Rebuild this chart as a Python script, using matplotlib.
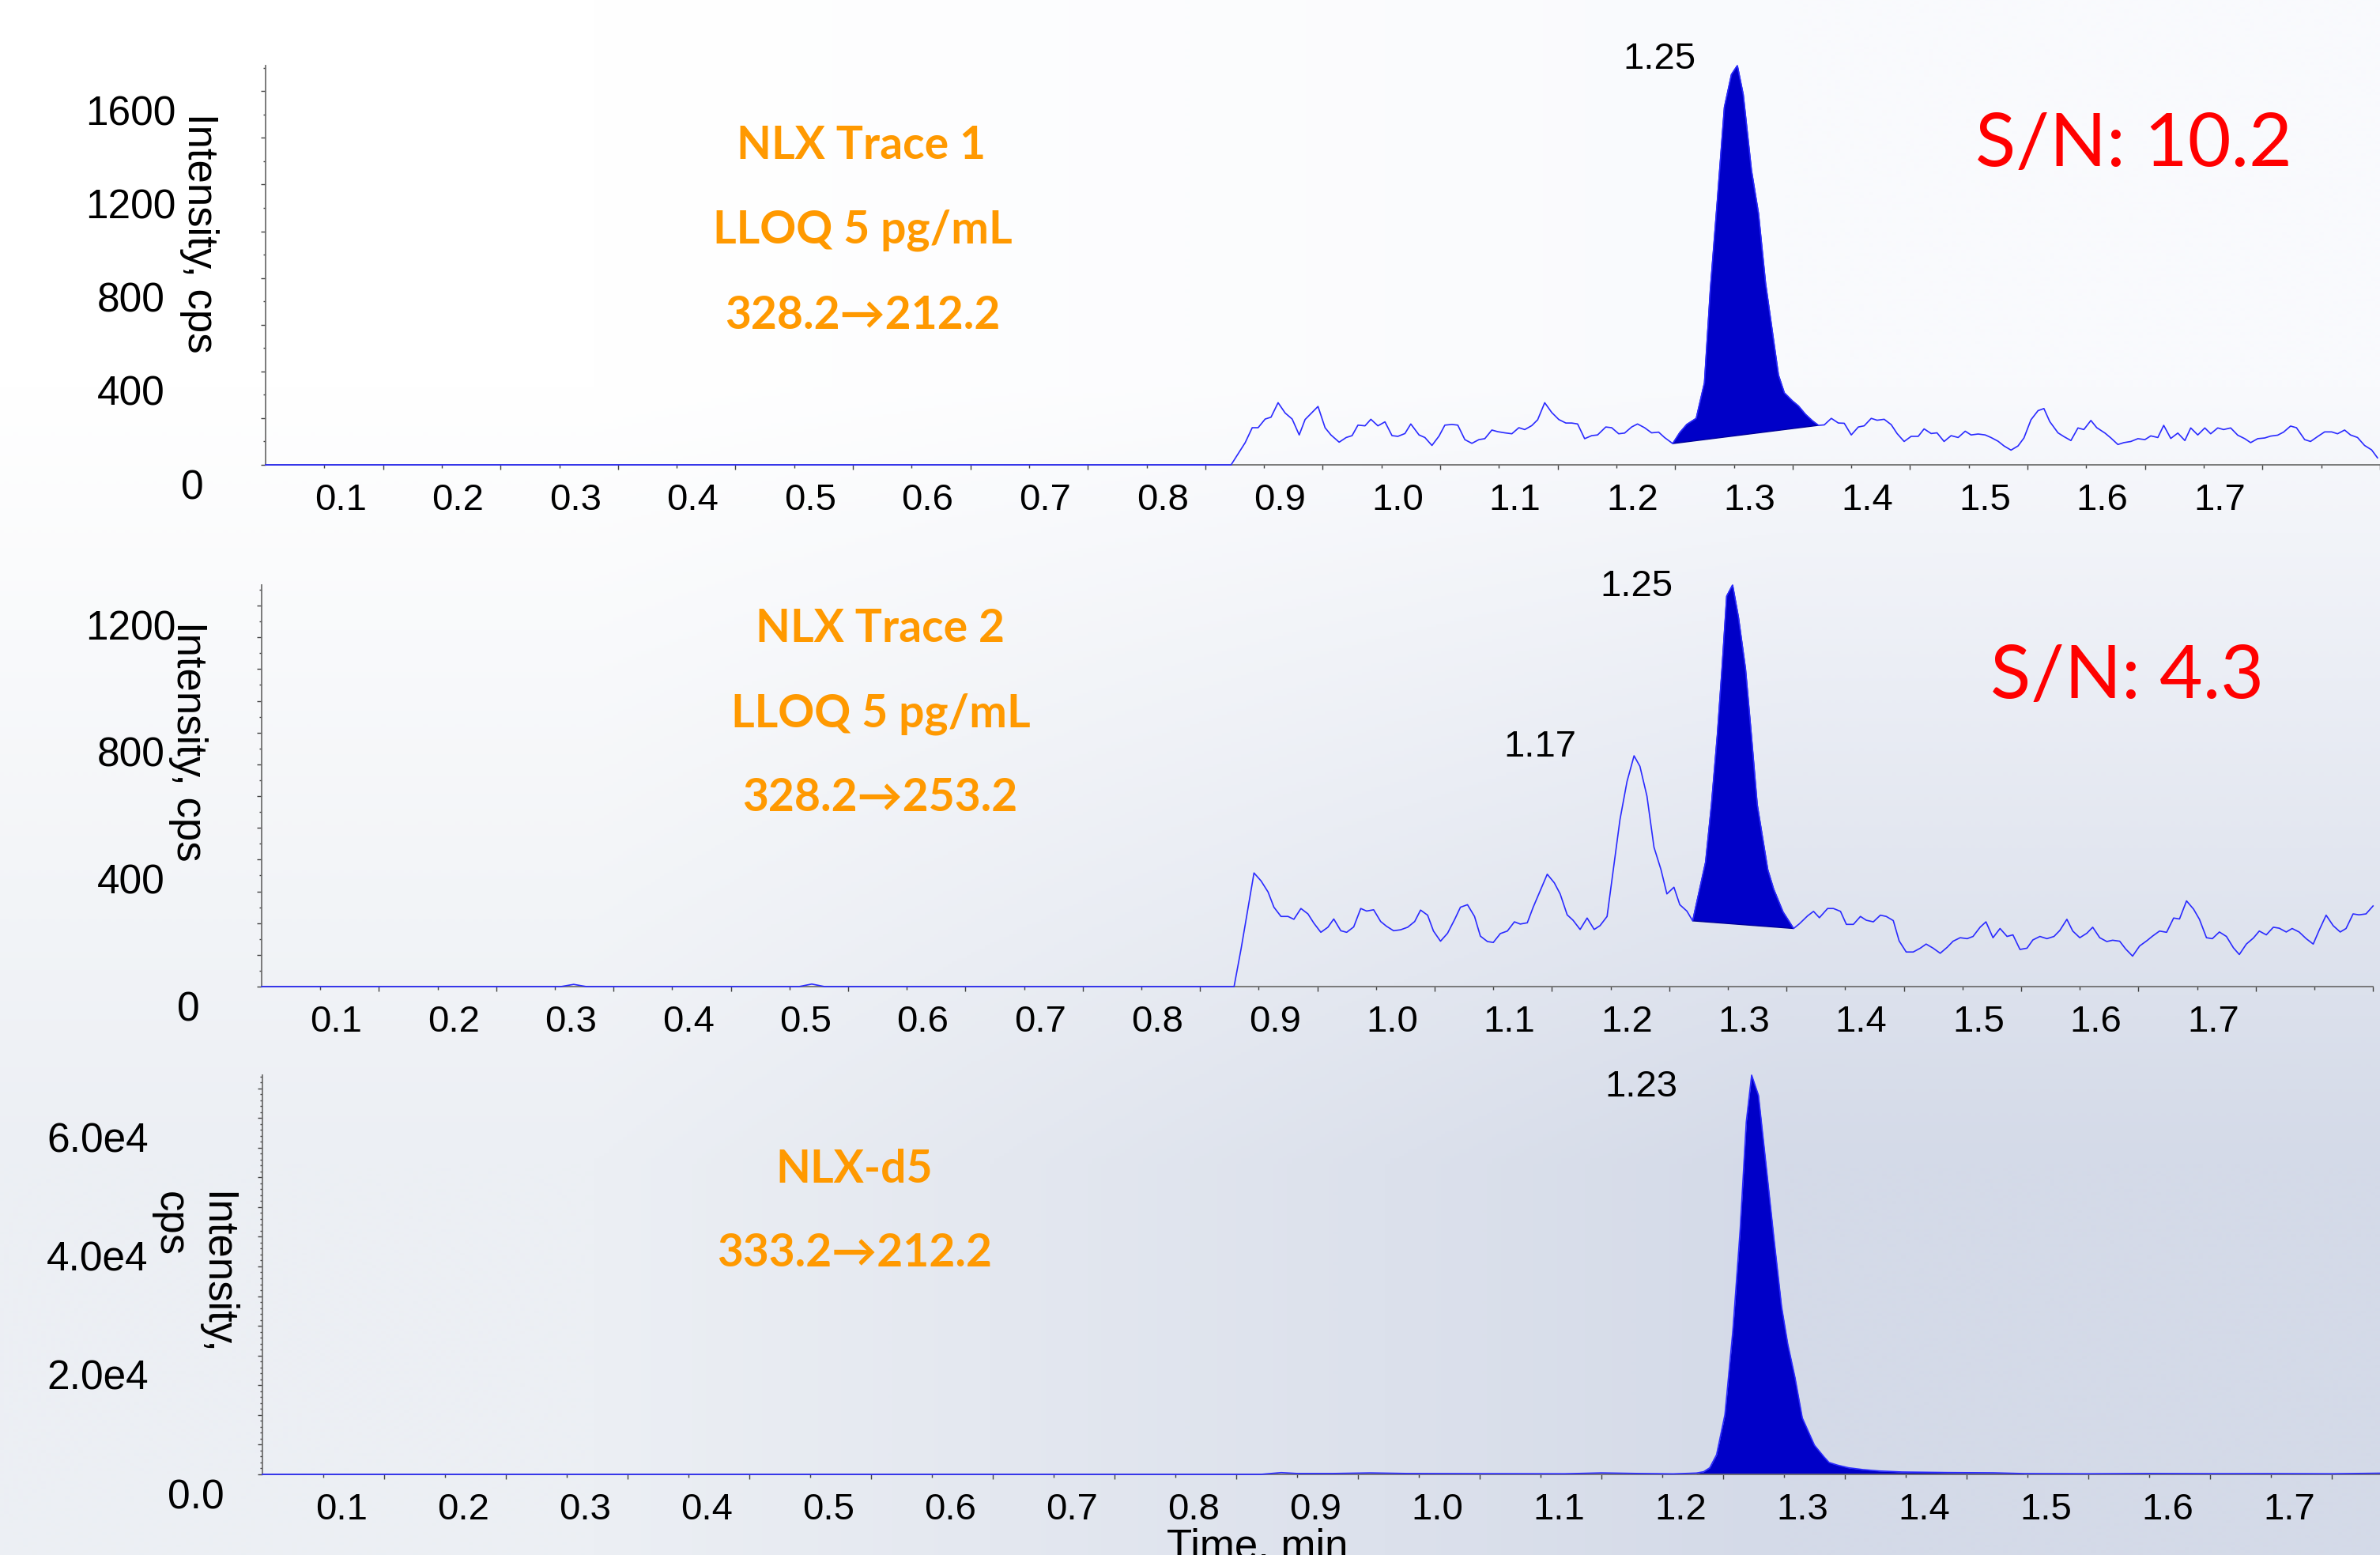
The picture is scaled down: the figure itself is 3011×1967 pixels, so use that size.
import numpy as np
import matplotlib
matplotlib.use("Agg")
import matplotlib.pyplot as plt
from matplotlib.transforms import ScaledTranslation

# ---------------- data ----------------
# Trace 1: NLX 328.2->212.2   (time in min, intensity in cps)
t1 = [0.0, 0.822, 0.834, 0.840, 0.845, 0.851, 0.856, 0.862, 0.868, 0.874, 0.880, 0.885, 0.896,
      0.902, 0.907, 0.914, 0.920, 0.925, 0.930, 0.936, 0.941, 0.947, 0.953, 0.959, 0.964, 0.970,
      0.975, 0.982, 0.987, 0.993, 0.999, 1.004, 1.010, 1.015, 1.021, 1.027, 1.033, 1.038, 1.044,
      1.049, 1.055, 1.061, 1.067, 1.072, 1.078, 1.083, 1.089, 1.095, 1.101, 1.107, 1.112, 1.117,
      1.123, 1.129, 1.134, 1.141, 1.146, 1.152, 1.157, 1.163, 1.168, 1.174, 1.180, 1.186, 1.191,
      1.198, 1.204, 1.210, 1.218, 1.225, 1.230, 1.236, 1.242, 1.248, 1.253, 1.258, 1.265, 1.271,
      1.277, 1.288, 1.293, 1.300, 1.305, 1.311, 1.317, 1.322, 1.327, 1.333, 1.339, 1.344, 1.350,
      1.356, 1.361, 1.367, 1.372, 1.378, 1.384, 1.389, 1.395, 1.401, 1.407, 1.412, 1.418, 1.423,
      1.429, 1.435, 1.441, 1.447, 1.452, 1.458, 1.464, 1.469, 1.475, 1.480, 1.486, 1.492, 1.497,
      1.503, 1.509, 1.514, 1.519, 1.526, 1.531, 1.537, 1.543, 1.548, 1.554, 1.559, 1.566, 1.571,
      1.577, 1.582, 1.588, 1.594, 1.600, 1.605, 1.611, 1.616, 1.622, 1.628, 1.634, 1.639, 1.645,
      1.651, 1.656, 1.662, 1.667, 1.673, 1.679, 1.685, 1.690, 1.696, 1.702, 1.707, 1.713, 1.718,
      1.724, 1.729, 1.736, 1.741, 1.747, 1.753, 1.759, 1.764, 1.770, 1.775, 1.781, 1.787, 1.793,
      1.798]
i1 = [0, 0, 95, 159, 159, 196, 204, 266, 222, 196, 128, 194, 250,
      159, 128, 97, 117, 125, 170, 167, 195, 167, 184, 125, 122, 134,
      175, 128, 117, 83, 123, 170, 173, 170, 108, 92, 108, 112, 149,
      142, 137, 133, 159, 151, 168, 193, 266, 224, 194, 179, 179, 175,
      112, 125, 128, 162, 159, 133, 136, 162, 175, 159, 137, 140, 117,
      91, 138, 173, 199, 351, 749, 1133, 1531, 1671, 1709, 1585, 1261, 1076,
      778, 384, 308, 273, 252, 216, 188, 169, 171, 199, 179, 178, 128,
      162, 167, 199, 191, 195, 172, 134, 100, 122, 122, 154, 134, 137,
      100, 125, 117, 144, 128, 132, 128, 117, 101, 81, 63, 81, 115,
      193, 232, 241, 185, 137, 121, 104, 158, 151, 190, 159, 136, 115,
      87, 95, 100, 112, 108, 124, 117, 169, 113, 136, 104, 158, 128,
      158, 133, 158, 151, 158, 127, 112, 95, 112, 115, 123, 127, 140,
      166, 159, 108, 100, 121, 141, 141, 133, 149, 128, 117, 83, 64,
      30]
peak1 = (1.198, 1.322)

# Trace 2: NLX 328.2->253.2
t2 = [0.0, 0.255, 0.266, 0.277, 0.458, 0.469, 0.480, 0.829, 0.835, 0.840, 0.846, 0.852, 0.858,
      0.863, 0.869, 0.875, 0.880, 0.886, 0.892, 0.897, 0.903, 0.909, 0.914, 0.920, 0.925, 0.931,
      0.937, 0.942, 0.948, 0.954, 0.959, 0.965, 0.971, 0.977, 0.983, 0.988, 0.994, 0.999, 1.005,
      1.011, 1.017, 1.022, 1.028, 1.034, 1.039, 1.045, 1.050, 1.056, 1.062, 1.068, 1.073, 1.079,
      1.084, 1.090, 1.096, 1.102, 1.107, 1.113, 1.118, 1.124, 1.130, 1.136, 1.141, 1.147, 1.152,
      1.158, 1.164, 1.170, 1.175, 1.181, 1.187, 1.193, 1.198, 1.204, 1.209, 1.215, 1.220, 1.231,
      1.236, 1.241, 1.245, 1.249, 1.254, 1.259, 1.265, 1.270, 1.275, 1.284, 1.289, 1.297, 1.306,
      1.311, 1.318, 1.323, 1.328, 1.335, 1.340, 1.346, 1.351, 1.357, 1.363, 1.368, 1.374, 1.380,
      1.385, 1.391, 1.396, 1.402, 1.408, 1.414, 1.419, 1.425, 1.431, 1.437, 1.442, 1.448, 1.454,
      1.459, 1.465, 1.470, 1.476, 1.482, 1.488, 1.493, 1.499, 1.505, 1.510, 1.516, 1.522, 1.528,
      1.533, 1.539, 1.544, 1.550, 1.556, 1.561, 1.567, 1.573, 1.578, 1.584, 1.589, 1.595, 1.601,
      1.607, 1.612, 1.618, 1.624, 1.630, 1.635, 1.641, 1.647, 1.652, 1.658, 1.663, 1.669, 1.675,
      1.681, 1.686, 1.692, 1.698, 1.703, 1.709, 1.715, 1.720, 1.726, 1.731, 1.737, 1.743, 1.749,
      1.754, 1.760, 1.766, 1.772, 1.777, 1.783, 1.788, 1.794, 1.800]
i2 = [0, 0, 7, 0, 0, 8, 0, 0, 119, 227, 358, 333, 298,
      250, 221, 221, 212, 246, 229, 200, 171, 187, 213, 176, 171, 188,
      246, 238, 242, 205, 190, 176, 179, 187, 205, 241, 225, 175, 143,
      168, 211, 250, 258, 221, 159, 142, 139, 167, 175, 204, 197, 201,
      250, 302, 354, 327, 292, 226, 209, 180, 216, 180, 192, 221, 360,
      526, 646, 727, 694, 600, 439, 368, 292, 313, 258, 238, 207, 392,
      573, 792, 1001, 1230, 1265, 1163, 1001, 792, 573, 368, 307, 235, 183,
      198, 223, 237, 217, 246, 246, 237, 196, 196, 221, 209, 204, 225,
      221, 208, 144, 109, 109, 121, 134, 121, 105, 124, 143, 154, 151,
      158, 187, 204, 154, 183, 158, 163, 117, 121, 147, 158, 151, 158,
      177, 212, 175, 154, 168, 187, 154, 142, 146, 143, 119, 96, 128,
      144, 159, 175, 171, 216, 213, 270, 244, 212, 154, 151, 172, 158,
      122, 101, 134, 153, 175, 163, 187, 184, 172, 183, 172, 151, 134,
      177, 225, 192, 172, 183, 229, 226, 229, 254]
peak2 = (1.220, 1.306)

# Trace 3: NLX-d5 333.2->212.2
t3 = [0.0, 0.820, 0.837, 0.850, 0.880, 0.910, 0.940, 1.000, 1.070, 1.100, 1.130, 1.159,
      1.178, 1.184, 1.189, 1.1946, 1.2015, 1.208, 1.214, 1.219, 1.2234, 1.229, 1.235, 1.2415,
      1.248, 1.253, 1.259, 1.265, 1.275, 1.283, 1.287, 1.294, 1.303, 1.315, 1.328, 1.347,
      1.384, 1.422, 1.447, 1.500, 1.550, 1.600, 1.650, 1.700, 1.740, 1.780, 1.800]
i3 = [0, 0, 300, 150, 150, 250, 150, 120, 100, 250, 150, 80,
      222, 443, 1108, 3300, 10080, 24200, 41200, 59300, 67200, 63800, 52500, 40100,
      28200, 22000, 16300, 9500, 4900, 2900, 2000, 1550, 1110, 800, 576, 400,
      310, 266, 133, 100, 150, 120, 130, 100, 200, 120, 100]
peak3 = (1.178, 1.447)

x_major = [0.1, 0.2, 0.3, 0.4, 0.5, 0.6, 0.7, 0.8, 0.9, 1.0, 1.1, 1.2, 1.3, 1.4, 1.5, 1.6, 1.7, 1.8]
x_labels = ["0.1", "0.2", "0.3", "0.4", "0.5", "0.6", "0.7", "0.8", "0.9", "1.0",
            "1.1", "1.2", "1.3", "1.4", "1.5", "1.6", "1.7", ""]

y1_ticks = [0, 200, 400, 600, 800, 1000, 1200, 1400, 1600]
y1_labels = ["0", "", "400", "", "800", "", "1200", "", "1600"]
y2_ticks = [0, 100, 200, 300, 400, 500, 600, 700, 800, 900, 1000, 1100, 1200]
y2_labels = ["0", "", "", "", "400", "", "", "", "800", "", "", "", "1200"]
y3_ticks = [0, 5000, 10000, 15000, 20000, 25000, 30000, 35000, 40000, 45000, 50000, 55000, 60000, 65000]
y3_labels = ["0.0", "", "", "", "2.0e4", "", "", "", "4.0e4", "", "", "", "6.0e4", ""]

peak_labels1 = [("1.25", 1.187, 1696)]
peak_labels2 = [("1.25", 1.172, 1229), ("1.17", 1.090, 724)]
peak_labels3 = [("1.23", 1.1325, 63564)]

# ---------------- figure ----------------
W, H, DPI = 3011, 1967, 100
fig = plt.figure(figsize=(W / DPI, H / DPI), dpi=DPI)

TICKFONT = ["Liberation Sans", "DejaVu Sans"]
TXTFONT = ["Lato", "DejaVu Sans"]
LINE_C = "#2a2aff"
FILL_C = "#0000c8"
ORANGE = "#ff9900"

# background gradient
bg = fig.add_axes([0, 0, 1, 1], zorder=-10)
grad = np.array([[[255, 255, 255], [249, 250, 253]],
                 [[236, 239, 244], [212, 218, 232]]]) / 255.0
bg.imshow(grad, extent=[0, 1, 0, 1], aspect="auto", interpolation="bilinear", origin="upper")
bg.set_axis_off()


def px_axes(left, bottom, width, top):
    return fig.add_axes([left / W, 1 - bottom / H, width / W, (bottom - top) / H])


def shift(text, dx, dy):
    text.set_transform(text.get_transform() + ScaledTranslation(dx / DPI, -dy / DPI, fig.dpi_scale_trans))


def style(ax, ylim, yticks, ylabels, yminor, ylab_dx, zero_dx):
    ax.set_facecolor("none")
    for s in ("top", "right"):
        ax.spines[s].set_visible(False)
    for s in ("left", "bottom"):
        ax.spines[s].set_color("#707070")
        ax.spines[s].set_linewidth(1.3)
    ax.set_xlim(0, 1.8)
    ax.set_ylim(0, ylim)
    ax.set_xticks(x_major, labels=x_labels, fontsize=34, family=TICKFONT)
    ax.set_xticks(np.arange(0.05, 1.8, 0.1), minor=True)
    ax.set_yticks(yticks, labels=ylabels, fontsize=37, family=TICKFONT, ha="center")
    ax.set_yticks(yminor, minor=True)
    ax.tick_params(axis="x", which="major", length=4.6, width=1.0, color="#404040", pad=12)
    ax.tick_params(axis="x", which="minor", length=2.8, width=1.0, color="#404040")
    ax.tick_params(axis="y", which="major", length=4.6, width=1.0, color="#404040", pad=0)
    ax.tick_params(axis="y", which="minor", length=2.5, width=1.0, color="#404040")
    for lab in ax.get_xticklabels():
        shift(lab, -54, 0)
    for lab, txt in zip(ax.get_yticklabels(), ylabels):
        dx = zero_dx if txt in ("0", "0.0") else ylab_dx
        shift(lab, dx, 24)


def draw_trace(ax, t, v, peak, base_fill=False):
    t = np.asarray(t)
    v = np.asarray(v, dtype=float)
    m = (t >= peak[0] - 1e-9) & (t <= peak[1] + 1e-9)
    if base_fill:
        ax.fill_between(t[m], 0, v[m], color=FILL_C, lw=0, zorder=2)
    else:
        ax.fill(t[m], v[m], facecolor=FILL_C, edgecolor="#00009a", lw=1.0, zorder=2)
    ax.plot(t, v, color=LINE_C, lw=1.2, zorder=3, clip_on=False)


# panel 1
ax1 = px_axes(336, 588, 1.8 * 1486, 83)
draw_trace(ax1, t1, i1, peak1)
style(ax1, max(i1), y1_ticks, y1_labels, np.arange(100, 1701, 200), -164, -86)
ax1.set_ylabel("Intensity, cps", rotation=270, fontsize=38, family=TICKFONT, ha="center", va="center")
ax1.yaxis.set_label_coords((252 - 336) / (1.8 * 1486), (588 - 295) / 505)
for s, x, y in peak_labels1:
    ax1.text(x, y, s, fontsize=34, family=TICKFONT, ha="center", va="baseline")

# panel 2
ax2 = px_axes(331, 1248, 1.8 * 1484, 740)
draw_trace(ax2, t2, i2, peak2)
style(ax2, max(i2), y2_ticks, y2_labels, np.arange(50, 1251, 100), -159, -86)
ax2.set_ylabel("Intensity, cps", rotation=270, fontsize=38, family=TICKFONT, ha="center", va="center")
ax2.yaxis.set_label_coords((238 - 331) / (1.8 * 1484), (1248 - 938) / 508)
for s, x, y in peak_labels2:
    ax2.text(x, y, s, fontsize=34, family=TICKFONT, ha="center", va="baseline")

# panel 3
ax3 = px_axes(332, 1865, 1.8 * 1540, 1360)
draw_trace(ax3, t3, i3, peak3, base_fill=True)
style(ax3, max(i3), y3_ticks, y3_labels, [v for v in range(1000, 67001, 1000) if v % 5000], -202, -78)
ax3.set_ylabel("Intensity,\ncps", rotation=270, fontsize=38, family=TICKFONT, ha="center", va="center",
               multialignment="left", linespacing=1.2)
ax3.yaxis.set_label_coords((244 - 332) / (1.8 * 1540), (1865 - 1610) / 505)
ax3.set_xlabel("Time, min", fontsize=38, family=TICKFONT, va="top")
ax3.xaxis.set_label_coords((1591 - 332) / (1.8 * 1540), (1865 - 1933) / 505)
for s, x, y in peak_labels3:
    ax3.text(x, y, s, fontsize=34, family=TICKFONT, ha="center", va="baseline")

# orange compound labels
orange_texts = [
    ("NLX Trace 1", 1090, 201), ("LLOQ 5 pg/mL", 1091, 308), ("328.2\u2192212.2", 1091, 416),
    ("NLX Trace 2", 1113, 812), ("LLOQ 5 pg/mL", 1114, 919), ("328.2\u2192253.2", 1113, 1026),
    ("NLX-d5", 1081, 1496), ("333.2\u2192212.2", 1081, 1602),
]
for s, x, y in orange_texts:
    fig.text(x / W, 1 - y / H, s, color=ORANGE, fontsize=41, fontweight="bold", family=TXTFONT,
             ha="center", va="baseline")

# S/N labels
for s, x, y in [("S/N: 10.2", 2699, 210), ("S/N: 4.3", 2691, 883)]:
    fig.text(x / W, 1 - y / H, s, color="#ff0000", fontsize=68, family=TXTFONT,
             ha="center", va="baseline")

fig.savefig("out.png", dpi=DPI)
